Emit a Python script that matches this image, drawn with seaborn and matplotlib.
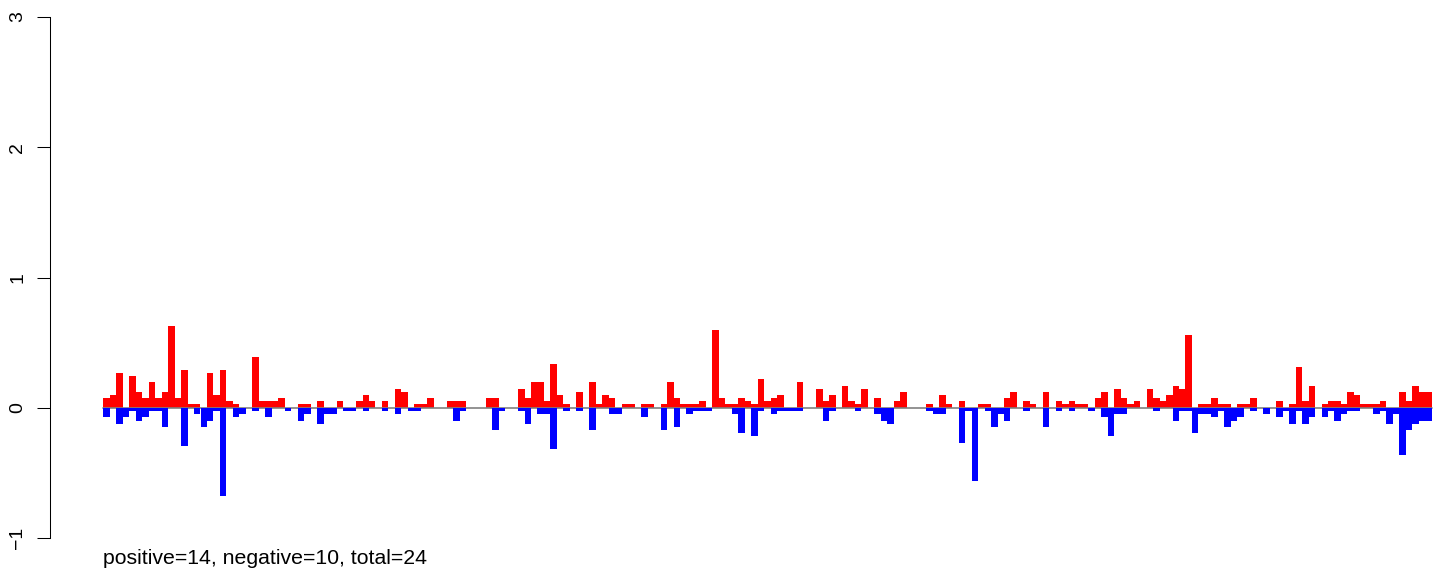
import numpy as np
import pandas as pd
import matplotlib
matplotlib.use("Agg")
import seaborn as sns
import matplotlib.pyplot as plt

# valores positivos (rojo) y negativos (azul) por posición
pos = [0.072, 0.095, 0.264, 0, 0.24, 0.118, 0.072, 0.195, 0.072, 0.118,
       0.628, 0.072, 0.287, 0.026, 0.026, 0, 0.264, 0.095, 0.287, 0.049,
       0.026, 0, 0, 0.387, 0.049, 0.049, 0.049, 0.072, 0, 0,
       0.026, 0.026, 0, 0.049, 0, 0, 0.049, 0, 0, 0.049,
       0.095, 0.049, 0, 0.049, 0, 0.141, 0.118, 0, 0.026, 0.026,
       0.072, 0, 0, 0.049, 0.049, 0.049, 0, 0, 0, 0.072,
       0.072, 0, 0, 0, 0.141, 0.072, 0.195, 0.195, 0.049, 0.333,
       0.095, 0.026, 0, 0.118, 0, 0.195, 0.026, 0.095, 0.072, 0,
       0.026, 0.026, 0, 0.026, 0.026, 0, 0.026, 0.195, 0.072, 0.026,
       0.026, 0.026, 0.049, 0, 0.60, 0.072, 0.026, 0.026, 0.072, 0.049,
       0.026, 0.218, 0.049, 0.072, 0.095, 0, 0, 0.195, 0, 0,
       0.141, 0.049, 0.095, 0, 0.164, 0.049, 0.026, 0.141, 0, 0.072,
       0, 0, 0.049, 0.118, 0, 0, 0, 0.026, 0, 0.095,
       0.026, 0, 0.049, 0, 0, 0.026, 0.026, 0, 0, 0.072,
       0.118, 0, 0.049, 0.026, 0, 0.118, 0, 0.049, 0.026, 0.049,
       0.026, 0.026, 0, 0.072, 0.118, 0, 0.141, 0.072, 0.026, 0.049,
       0, 0.141, 0.072, 0.049, 0.095, 0.164, 0.141, 0.556, 0, 0.026,
       0.026, 0.072, 0.026, 0.026, 0, 0.026, 0.026, 0.072, 0, 0,
       0, 0.049, 0, 0.026, 0.31, 0.049, 0.164, 0, 0.026, 0.049,
       0.049, 0.026, 0.118, 0.095, 0.026, 0.026, 0.026, 0.049, 0, 0,
       0.118, 0.049, 0.164, 0.118, 0.118]

neg = [-0.072, 0, -0.123, -0.072, -0.026, -0.10, -0.072, -0.026, -0.026, -0.149,
       0, 0, -0.295, 0, -0.049, -0.149, -0.10, -0.026, -0.68, 0,
       -0.072, -0.049, 0, -0.026, 0, -0.072, 0, 0, -0.026, 0,
       -0.10, -0.049, 0, -0.123, -0.049, -0.049, 0, -0.026, -0.026, 0,
       -0.026, 0, 0, -0.026, 0, -0.049, 0, -0.026, -0.026, 0,
       0, 0, 0, 0, -0.10, -0.026, 0, 0, 0, 0,
       -0.172, -0.026, 0, 0, -0.026, -0.123, 0, -0.049, -0.049, -0.318,
       0, -0.026, 0, -0.026, 0, -0.172, 0, 0, -0.049, -0.049,
       0, 0, 0, -0.072, 0, 0, -0.172, 0, -0.149, 0,
       -0.049, -0.026, -0.026, -0.026, 0, 0, 0, -0.049, -0.195, 0,
       -0.218, -0.026, 0, -0.049, -0.026, -0.026, -0.026, -0.026, 0, 0,
       0, -0.10, -0.026, 0, 0, 0, -0.026, 0, 0, -0.049,
       -0.10, -0.123, 0, 0, 0, 0, 0, -0.026, -0.049, -0.049,
       0, 0, -0.27, -0.026, -0.56, 0, -0.026, -0.149, -0.049, -0.10,
       0, 0, -0.026, 0, 0, -0.149, 0, -0.026, 0, -0.026,
       0, 0, -0.026, 0, -0.072, -0.218, -0.049, -0.049, 0, 0,
       0, 0, -0.026, 0, 0, -0.10, -0.026, -0.026, -0.195, -0.049,
       -0.049, -0.072, -0.026, -0.149, -0.10, -0.072, 0, -0.026, 0, -0.049,
       0, -0.072, -0.026, -0.123, -0.026, -0.123, -0.072, 0, -0.072, -0.026,
       -0.10, -0.049, -0.026, -0.026, 0, 0, -0.049, -0.026, -0.123, -0.049,
       -0.364, -0.172, -0.123, -0.10, -0.10]

yticks = [-1, 0, 1, 2, 3]
ytick_labels = ["\u22121", "0", "1", "2", "3"]
resumen = "positive=14, negative=10, total=24"

df = pd.DataFrame({"idx": np.arange(len(pos)), "pos": pos, "neg": neg})

sns.set_style("white")
plt.rcParams['font.family'] = ['Liberation Sans', 'DejaVu Sans']

fig = plt.figure(figsize=(14.41, 5.75), dpi=100)
ax = fig.add_axes([50.2 / 1441, 0, (1441 - 50.2) / 1441, 1])

sns.barplot(data=df, x="idx", y="pos", color="#ff0000", saturation=1,
            width=1, linewidth=0, errorbar=None, ax=ax, zorder=2)
sns.barplot(data=df, x="idx", y="neg", color="#0000ff", saturation=1,
            width=1, linewidth=0, errorbar=None, ax=ax, zorder=4)

# línea del cero
ax.plot([-0.5, len(pos) - 0.5], [0, 0], color="#808080", lw=1.2, zorder=3)

ax.set_xlim(-0.5 - 53.1 / 6.48, -0.5 + (1441 - 103.3) / 6.48)
ax.set_ylim(-1 - 37 / 130.25, 3 + 17 / 130.25)

ax.set_xticks([])
ax.set_xlabel("")
ax.set_ylabel("")
ax.set_yticks(yticks)
ax.set_yticklabels(ytick_labels)
ax.tick_params(axis="y", left=True, length=9.4, width=0.75, pad=8,
               labelsize=14, labelrotation=90, colors="black")
for lab in ax.get_yticklabels():
    lab.set_va("center")

for s in ["top", "right", "bottom"]:
    ax.spines[s].set_visible(False)
ax.spines["left"].set_bounds(-1, 3)
ax.spines["left"].set_linewidth(0.75)
ax.spines["left"].set_color("black")

fig.text(103 / 1441, (575 - 564) / 575, resumen, fontsize=15.3,
         color="black", ha="left", va="baseline")

fig.savefig("out.png", dpi=100)
